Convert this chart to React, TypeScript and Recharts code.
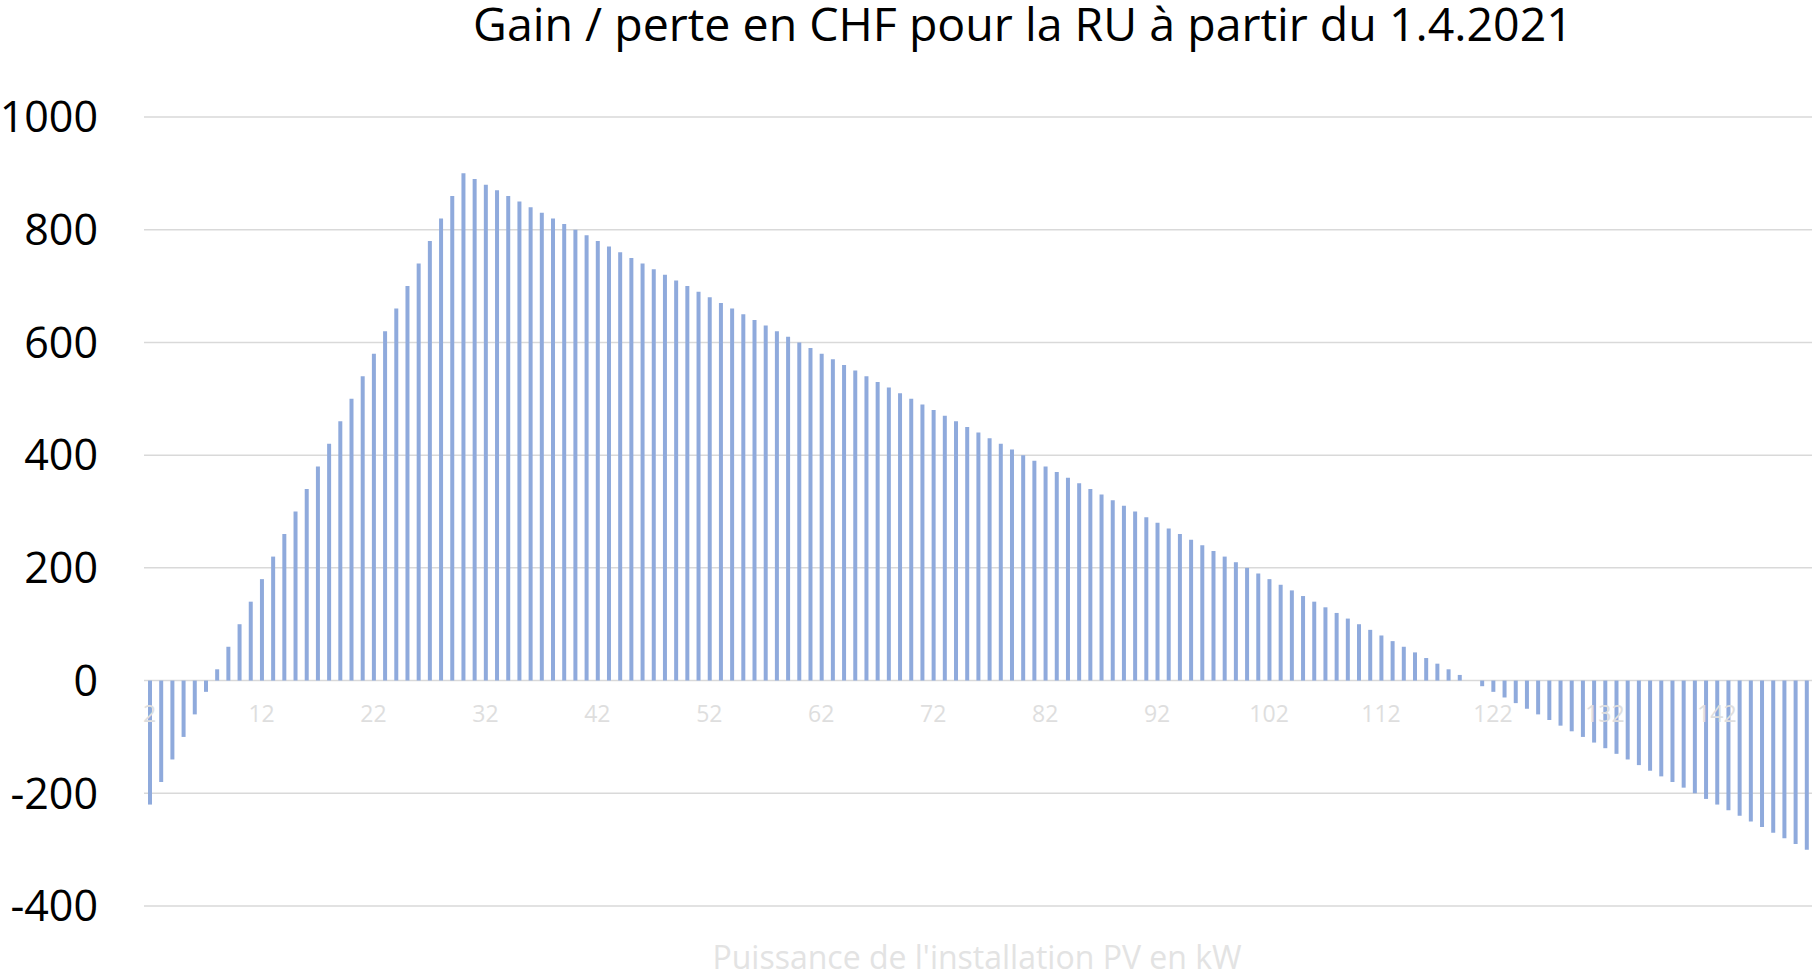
import React from "react";
import { Bar, BarChart, CartesianGrid, XAxis, YAxis } from "recharts";

const puissances = [
  2, 3, 4, 5, 6, 7, 8, 9, 10, 11, 12, 13, 14, 15, 16, 17, 18, 19, 20, 21,
  22, 23, 24, 25, 26, 27, 28, 29, 30, 31, 32, 33, 34, 35, 36, 37, 38, 39, 40, 41,
  42, 43, 44, 45, 46, 47, 48, 49, 50, 51, 52, 53, 54, 55, 56, 57, 58, 59, 60, 61,
  62, 63, 64, 65, 66, 67, 68, 69, 70, 71, 72, 73, 74, 75, 76, 77, 78, 79, 80, 81,
  82, 83, 84, 85, 86, 87, 88, 89, 90, 91, 92, 93, 94, 95, 96, 97, 98, 99, 100, 101,
  102, 103, 104, 105, 106, 107, 108, 109, 110, 111, 112, 113, 114, 115, 116, 117, 118, 119, 120, 121,
  122, 123, 124, 125, 126, 127, 128, 129, 130, 131, 132, 133, 134, 135, 136, 137, 138, 139, 140, 141,
  142, 143, 144, 145, 146, 147, 148, 149, 150,
];

const gainPerte = [
  -220, -180, -140, -100, -60, -20, 20, 60, 100, 140, 180, 220, 260, 300, 340, 380, 420, 460, 500, 540,
  580, 620, 660, 700, 740, 780, 820, 860, 900, 890, 880, 870, 860, 850, 840, 830, 820, 810, 800, 790,
  780, 770, 760, 750, 740, 730, 720, 710, 700, 690, 680, 670, 660, 650, 640, 630, 620, 610, 600, 590,
  580, 570, 560, 550, 540, 530, 520, 510, 500, 490, 480, 470, 460, 450, 440, 430, 420, 410, 400, 390,
  380, 370, 360, 350, 340, 330, 320, 310, 300, 290, 280, 270, 260, 250, 240, 230, 220, 210, 200, 190,
  180, 170, 160, 150, 140, 130, 120, 110, 100, 90, 80, 70, 60, 50, 40, 30, 20, 10, 0, -10,
  -20, -30, -40, -50, -60, -70, -80, -90, -100, -110, -120, -130, -140, -150, -160, -170, -180, -190, -200, -210,
  -220, -230, -240, -250, -260, -270, -280, -290, -300,
];

const yTicks = [-400, -200, 0, 200, 400, 600, 800, 1000];

const data = puissances.map((kw, i) => ({ kw, chf: gainPerte[i] }));

const FONT = "'Open Sans', sans-serif";

// labels sit next to the zero line, like the Excel axis crossing at 0
function KwTick(props: any) {
  const { x, y, payload } = props;
  return (
    <text x={x} y={y} dy={-192} textAnchor="middle" fill="#dedede" fontSize={23} fontFamily={FONT}>
      {payload.value}
    </text>
  );
}

export default function App() {
  return (
    <div style={{ position: "relative", width: 1812, height: 980, background: "#fff" }}>
      <style>{`body{margin:0}`}</style>
      <BarChart
        width={1812}
        height={980}
        data={data}
        margin={{ top: 117, right: 0, bottom: 44, left: 0 }}
        barCategoryGap={0}
      >
        <CartesianGrid vertical={false} stroke="#d9d9d9" strokeWidth={1.5} />
        <XAxis
          dataKey="kw"
          interval={9}
          axisLine={false}
          tickLine={false}
          height={30}
          tick={<KwTick />}
        />
        <YAxis
          width={144}
          domain={[-400, 1000]}
          ticks={yTicks}
          axisLine={false}
          tickLine={false}
          tickSize={0}
          tickMargin={46}
          tick={{ fontSize: 43, fill: "#000", fontFamily: FONT }}
        />
        <Bar dataKey="chf" fill="#8faadc" barSize={4} isAnimationActive={false} />
      </BarChart>
      <svg width={1812} height={980} style={{ position: "absolute", left: 0, top: 0, pointerEvents: "none" }}>
        <text x={1023} y={41} textAnchor="middle" fontSize={46.5} fontFamily={FONT} fill="#000">
          Gain / perte en CHF pour la RU à partir du 1.4.2021
        </text>
        <text x={977} y={969} textAnchor="middle" fontSize={32} fontFamily={FONT} fill="#e3e3e3">
          Puissance de l'installation PV en kW
        </text>
      </svg>
    </div>
  );
}
